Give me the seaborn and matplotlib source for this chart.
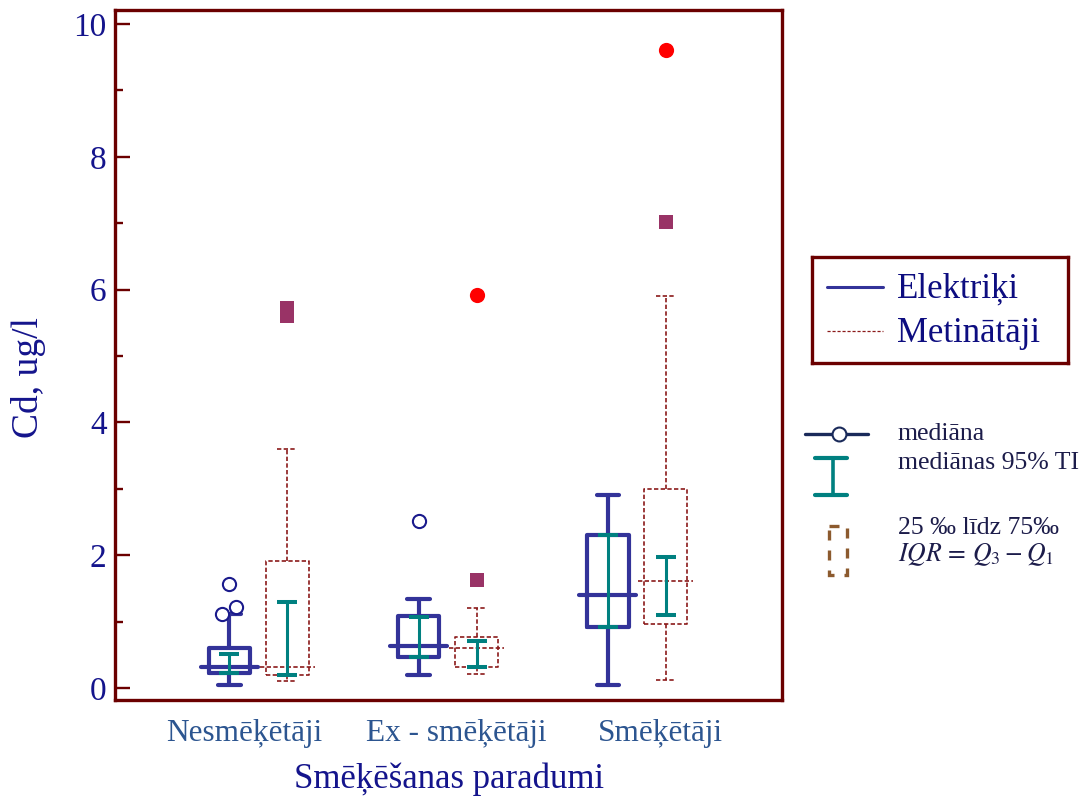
import numpy as np
import pandas as pd
import matplotlib
matplotlib.use("Agg")
import matplotlib.pyplot as plt
import matplotlib.transforms as mtransforms
from matplotlib.patches import Rectangle
import seaborn as sns

# ---- summary statistics (Cd, ug/l) ----
groups = ["Nesmēķētāji", "Ex - smēķētāji", "Smēķētāji"]

elek_whislo = [0.05, 0.20, 0.05]
elek_q1 = [0.22, 0.46, 0.92]
elek_med = [0.31, 0.63, 1.40]
elek_q3 = [0.60, 1.08, 2.30]
elek_whishi = [1.11, 1.34, 2.90]
elek_ci_lo = [0.22, 0.46, 0.92]
elek_ci_hi = [0.52, 1.07, 2.30]

met_whislo = [0.11, 0.21, 0.12]
met_q1 = [0.20, 0.31, 0.96]
met_med = [0.31, 0.61, 1.61]
met_q3 = [1.91, 0.77, 3.00]
met_whishi = [3.60, 1.21, 5.90]
met_ci_lo = [0.20, 0.31, 1.10]
met_ci_hi = [1.29, 0.71, 1.98]

# outliers: group index and value
elek_out_group = [0, 0, 0, 1]
elek_out_value = [1.57, 1.11, 1.22, 2.52]
met_out_group = [0, 0, 1, 2]
met_out_value = [5.60, 5.72, 1.63, 7.02]
met_far_group = [1, 2]
met_far_value = [5.92, 9.61]

# ---- styling ----
sns.set_theme(style="white")
plt.rcParams["font.family"] = ["Liberation Serif", "DejaVu Serif"]
plt.rcParams["mathtext.fontset"] = "stix"

C_ELEK = "#333399"
C_MET = "#8b1a1a"
C_CI = "#008080"
C_FRAME = "#6b0000"
C_NAVY = "#14148c"
C_XTICK = "#2c5590"
C_SQ = "#993366"
C_FAR = "#ff0000"

fig = plt.figure(figsize=(10.86, 8.07), dpi=100)
W, H = 1086, 807
ax = fig.add_axes([115 / W, 107 / H, 667 / W, 690 / H])

x = np.arange(len(groups))
off = 0.153
pos_e = x - off
pos_m = x + off


def stats(lo, q1, med, q3, hi):
    return [dict(whislo=a, q1=b, med=c, q3=d, whishi=e, fliers=[])
            for a, b, c, d, e in zip(lo, q1, med, q3, hi)]


# Elektriķi boxes
ax.bxp(stats(elek_whislo, elek_q1, elek_med, elek_q3, elek_whishi),
       positions=pos_e, widths=0.22, capwidths=0.12, showfliers=False,
       boxprops=dict(color=C_ELEK, lw=3.0, solid_joinstyle="round"),
       whiskerprops=dict(color=C_ELEK, lw=3.0),
       capprops=dict(color=C_ELEK, lw=3.0, solid_capstyle="round"),
       medianprops=dict(lw=0), zorder=3)
ax.hlines(elek_med, pos_e - 0.15, pos_e + 0.15, color=C_ELEK, lw=3.0,
          zorder=3, capstyle="round")

# Metinātāji boxes (dashed)
dash = (0, (2.6, 1.4))
ax.bxp(stats(met_whislo, met_q1, met_med, met_q3, met_whishi),
       positions=pos_m, widths=0.225, capwidths=0.105, showfliers=False,
       boxprops=dict(color=C_MET, lw=1.2, linestyle=dash),
       whiskerprops=dict(color=C_MET, lw=1.2, linestyle=dash),
       capprops=dict(color=C_MET, lw=1.2, linestyle=dash),
       medianprops=dict(lw=0), zorder=3)
ax.hlines(met_med, pos_m - 0.145, pos_m + 0.145, color=C_MET, lw=1.2,
          linestyle=dash, zorder=3)

# 95% confidence intervals of the medians
for pos, lo, hi in ((pos_e, elek_ci_lo, elek_ci_hi), (pos_m, met_ci_lo, met_ci_hi)):
    lo = np.asarray(lo)
    hi = np.asarray(hi)
    mid = (lo + hi) / 2
    ax.errorbar(pos, mid, yerr=[mid - lo, hi - mid], fmt="none",
                ecolor=C_CI, elinewidth=2.2, capsize=7.5, capthick=2.9,
                zorder=4)

# outliers
jit_e = [0.0, -0.04, 0.037, 0.0]
df_e = pd.DataFrame({"x": pos_e[elek_out_group] + np.array(jit_e),
                     "v": elek_out_value})
sns.scatterplot(data=df_e, x="x", y="v", ax=ax, marker="o", s=90,
                color="white", edgecolor="#1a1a8c", linewidth=1.5,
                zorder=5, legend=False)
df_m = pd.DataFrame({"x": pos_m[met_out_group], "v": met_out_value})
sns.scatterplot(data=df_m, x="x", y="v", ax=ax, marker="s", s=100,
                color=C_SQ, edgecolor=C_SQ, linewidth=0, zorder=5,
                legend=False)
df_f = pd.DataFrame({"x": pos_m[met_far_group], "v": met_far_value})
sns.scatterplot(data=df_f, x="x", y="v", ax=ax, marker="o", s=120,
                color=C_FAR, edgecolor=C_FAR, linewidth=0, zorder=5,
                legend=False)

# axes
ax.set_xlim(-0.757, 2.767)
ax.set_ylim(-0.18, 10.21)
ax.set_yticks(np.arange(0, 11, 2))
ax.set_yticks(np.arange(1, 11, 2), minor=True)
ax.set_xticks(x)
ax.set_xticklabels(groups)
for s in ax.spines.values():
    s.set_color(C_FRAME)
    s.set_linewidth(2.4)
ax.tick_params(axis="y", which="major", direction="in", length=11, width=1.7,
               color=C_FRAME, labelsize=24, labelcolor=C_NAVY, pad=6,
               left=True, right=False)
ax.tick_params(axis="y", which="minor", direction="in", length=6, width=1.7,
               color=C_FRAME, left=True, right=False)
ax.tick_params(axis="x", length=0, labelsize=22.5, labelcolor=C_XTICK, pad=14,
               bottom=True)
label_shift = [-14, 9, 24]
for lab, dx in zip(ax.get_xticklabels(), label_shift):
    lab.set_transform(lab.get_transform() +
                      mtransforms.ScaledTranslation(dx / 100, 0, fig.dpi_scale_trans))

ax.set_xlabel("Smēķēšanas paradumi", fontsize=25, color=C_NAVY, labelpad=10)
ax.set_ylabel("Cd, ug/l", fontsize=27, color=C_NAVY)
ax.yaxis.set_label_coords(-0.104, 0.468)
ax.grid(False)

# ---- series legend ----
lg = fig.add_axes([812 / W, (H - 363) / H, 256 / W, 106 / H])
lg.set_xlim(0, 256)
lg.set_ylim(106, 0)
lg.set_xticks([])
lg.set_yticks([])
for s in lg.spines.values():
    s.set_color(C_FRAME)
    s.set_linewidth(2.4)
lg.plot([15, 71], [30, 30], color=C_ELEK, lw=2.2)
lg.plot([15, 71], [74, 74], color=C_MET, lw=0.9, linestyle=(0, (2.5, 1.5)))
lg.text(85, 32, "Elektriķi", fontsize=25, color="#0d0d80", va="center")
lg.text(85, 76, "Metinātāji", fontsize=25, color="#0d0d80", va="center")

# ---- box element key ----
kg = fig.add_axes([800 / W, (H - 600) / H, 286 / W, 190 / H])
kg.set_xlim(0, 286)
kg.set_ylim(190, 0)
kg.axis("off")
kg.plot([5, 68], [24, 24], color="#1a2a5a", lw=2.4, zorder=1)
kg.plot([39], [24], marker="o", ms=10, mfc="white", mec="#1a2a5a", mew=1.5,
        zorder=2)
kg.plot([33, 33], [48, 85], color=C_CI, lw=2.6)
kg.plot([15, 47], [48, 48], color=C_CI, lw=3)
kg.plot([15, 47], [85, 85], color=C_CI, lw=3)
kg.add_patch(Rectangle((29, 116), 18, 49, fill=False, edgecolor="#8c5a2e",
                       lw=2.4, linestyle=(0, (3, 3))))
kc = "#1c1c4a"
kg.text(98, 24, "mediāna", fontsize=18.5, color=kc, va="center")
kg.text(98, 53, "mediānas 95% TI", fontsize=18.5, color=kc, va="center")
kg.text(98, 118, "25 ‰ līdz 75‰", fontsize=18.5, color=kc, va="center")
kg.text(98, 145, r"$IQR\,=\,Q_3 - Q_1$", fontsize=18.5, color=kc, va="center")

fig.savefig("out.png", dpi=100)
